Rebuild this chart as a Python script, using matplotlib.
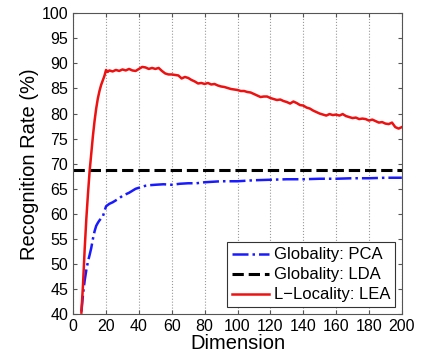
import numpy as np
import matplotlib
matplotlib.use("Agg")
import matplotlib.pyplot as plt

plt.rcParams['font.family'] = ['Liberation Sans', 'DejaVu Sans']

# L-Locality: LEA (red)
lea_dim = [5, 6, 7, 8, 9, 10, 11, 12, 13, 14, 15, 16, 17, 18, 19, 20, 21, 22, 24, 26,
           28, 30, 32, 34, 36, 38, 40, 42, 44, 46, 48, 50, 52, 54, 56, 58, 60, 62, 64, 66,
           68, 70, 72, 74, 76, 78, 80, 82, 84, 86, 88, 90, 92, 94, 96, 98, 100, 102, 104, 106,
           108, 110, 112, 114, 116, 118, 120, 122, 124, 126, 128, 130, 132, 134, 136, 138, 140, 142, 144, 146,
           148, 150, 152, 154, 156, 158, 160, 162, 164, 166, 168, 170, 172, 174, 176, 178, 180, 182, 184, 186,
           188, 190, 192, 194, 196, 198, 200]
lea_rate = [40.3, 46.0, 53.0, 59.0, 64.0, 68.5, 72.0, 75.5, 78.5, 81.0, 83.0, 84.5, 85.7, 86.6, 87.5, 88.7, 88.3, 88.6, 88.4, 88.7,
            88.5, 88.8, 88.6, 88.9, 88.6, 88.5, 88.9, 89.3, 89.2, 88.9, 89.1, 88.9, 89.1, 88.5, 88.0, 87.8, 87.8, 87.7, 87.6, 87.0,
            87.3, 87.1, 86.7, 86.4, 86.0, 86.1, 85.9, 86.1, 85.8, 85.9, 85.6, 85.4, 85.3, 85.1, 84.9, 84.8, 84.7, 84.5, 84.5, 84.3,
            84.2, 83.9, 83.6, 83.3, 83.4, 83.4, 83.1, 82.9, 82.7, 82.8, 82.5, 82.3, 82.0, 82.4, 82.1, 81.7, 81.6, 81.2, 81.0, 80.6,
            80.3, 80.0, 79.8, 79.6, 79.9, 79.7, 79.8, 79.6, 79.9, 79.5, 79.3, 79.1, 79.2, 78.9, 79.0, 78.9, 78.6, 78.8, 78.5, 78.2,
            78.3, 78.0, 77.9, 78.2, 77.3, 77.0, 77.3]

# Globality: PCA (blue)
pca_dim = [5, 6, 7, 8, 9, 10, 11, 12, 13, 14, 15, 16, 17, 18, 19, 20, 22, 24, 26, 28,
           30, 32, 34, 36, 38, 40, 42, 44, 46, 50, 55, 60, 65, 70, 75, 80, 85, 90, 95, 100,
           110, 120, 130, 140, 150, 160, 170, 180, 190, 200]
pca_rate = [40.5, 44.0, 46.7, 48.8, 50.5, 51.8, 53.2, 55.0, 56.5, 57.6, 58.2, 58.7, 59.1, 59.4, 60.5, 61.5, 62.0, 62.3, 62.7, 63.1,
            63.6, 63.9, 64.2, 64.6, 65.0, 65.2, 65.4, 65.6, 65.7, 65.8, 65.9, 65.8, 66.0, 66.1, 66.1, 66.3, 66.4, 66.5, 66.5, 66.5,
            66.7, 66.8, 66.9, 66.9, 67.0, 67.0, 67.1, 67.1, 67.2, 67.2]

# Globality: LDA (constant)
lda_dim = [0, 200]
lda_rate = [68.8, 68.8]

fig = plt.figure(figsize=(4.23, 3.59), dpi=100)
ax = fig.add_axes([0.173, 0.125, 0.777, 0.838])

ax.plot(pca_dim, pca_rate, '-.', color='#1a1aff', lw=1.8, label='Globality: PCA')
ax.plot(lda_dim, lda_rate, '--', color='black', lw=2.2, label='Globality: LDA')
ax.plot(lea_dim, lea_rate, '-', color='#ee1111', lw=1.8, label='L\u2212Locality: LEA')

ax.set_xlim(0, 200)
ax.set_ylim(40, 100)
ax.set_xticks(np.arange(0, 201, 20))
ax.set_yticks(np.arange(40, 101, 5))
ax.tick_params(direction='in', top=True, right=True, labelsize=11.5, length=3, color='#555555')
ax.grid(axis='x', linestyle=':', color='#999999', lw=0.8)
for s in ax.spines.values():
    s.set_color('#555555')
    s.set_linewidth(0.8)

ax.set_xlabel('Dimension', fontsize=14.5, labelpad=0)
ax.set_ylabel('Recognition Rate (%)', fontsize=14.5, labelpad=2)

leg = ax.legend(loc='lower right', fontsize=12, fancybox=False, framealpha=1,
                edgecolor='#333333', borderaxespad=0.4, handlelength=2.2,
                borderpad=0.3, labelspacing=0.3, handletextpad=0.3)
leg.get_frame().set_linewidth(0.8)

fig.savefig('out.png', dpi=100)
